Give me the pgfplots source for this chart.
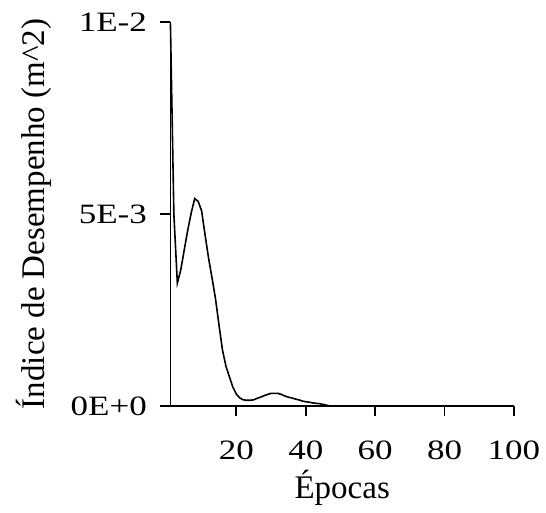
\documentclass[border=0pt]{standalone}
\usepackage{pgfplots}
\pgfplotsset{compat=1.18}
\usepackage{fontspec}
\setmainfont{Liberation Serif}
\newfontfamily\tickfont{Liberation Serif}[FakeStretch=1.25]
\begin{document}
\begin{tikzpicture}
\path[use as bounding box] (-170.4pt,-107pt) rectangle (375.6pt,406pt);
\begin{axis}[
  at={(0,0)}, anchor=south west,
  scale only axis, width=343.6pt, height=384pt,
  xmin=1, xmax=100, ymin=0, ymax=0.01,
  axis x line=bottom, axis y line=left,
  axis line style={-, line width=1.7pt, black},
  tick style={line width=1.7pt, black},
  tick align=outside, major tick length=10pt,
  /pgf/number format/assume math mode=true,
  xtick={20,40,60,80,100}, xticklabels={20,40,60,80,100},
  ytick={0,0.005,0.01}, yticklabels={0E+0,5E-3,1E-2},
  scaled y ticks=false, scaled x ticks=false,
  tick label style={font=\fontsize{28}{33}\tickfont},
  xticklabel style={anchor=base, yshift=-44pt},
  yticklabel style={anchor=east, xshift=-10pt},
  xlabel={Épocas}, ylabel={Índice de Desempenho (m\^{}2)},
  every axis x label/.style={at={(axis description cs:0.5,-0.2396)}, anchor=base, font=\fontsize{33}{38}\selectfont},
  every axis y label/.style={at={(axis description cs:-0.365,0.5)}, rotate=90, anchor=base, font=\fontsize{33}{38}\selectfont},
  clip=false,
]
\addplot[black, line width=1.6pt] coordinates {
(1,0.0100) (2,0.0050) (3,0.0032) (4,0.00355) (5,0.00407) (6,0.00458) (7,0.00503)
(8,0.0054) (9,0.00533) (10,0.00508) (11,0.00445) (12,0.00385) (13,0.00333)
(14,0.00279) (15,0.00211) (16,0.00146) (17,0.00104) (18,0.00076) (19,0.00049)
(20,0.00031) (21,0.00021) (22,0.00016) (23,0.00015) (24,0.00015) (25,0.00016)
(26,0.00020) (27,0.00023) (28,0.00027) (29,0.00030) (30,0.00033) (31,0.00033)
(32,0.00033) (33,0.00030) (34,0.00026) (35,0.00023) (36,0.00021) (37,0.00018)
(38,0.00016) (39,0.00013) (40,0.00011) (41,0.00010) (42,0.00008) (43,0.00007)
(44,0.00006) (45,0.00004) (46,0.00002) (47,0) (48,0) (49,0) (50,0) (55,0) (60,0)
(65,0) (70,0) (75,0) (80,0) (85,0) (90,0) (95,0) (100,0)
};
\end{axis}
\end{tikzpicture}
\end{document}
